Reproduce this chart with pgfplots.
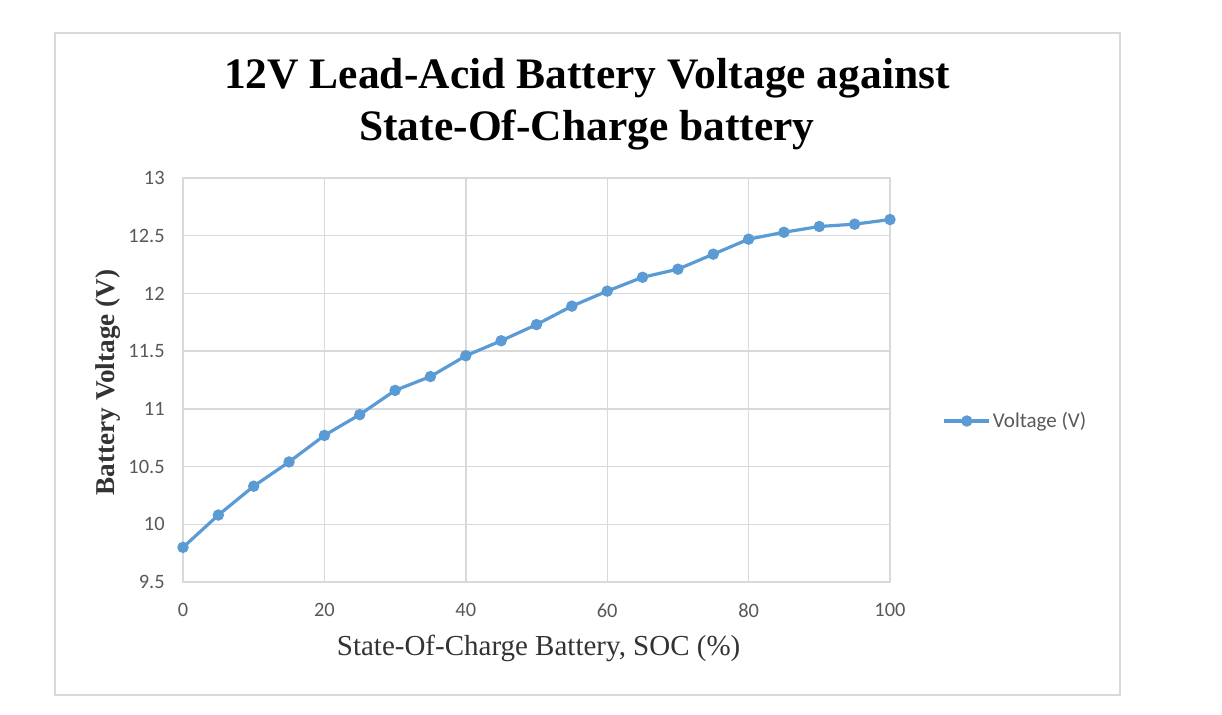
\documentclass[border=0pt]{standalone}
\usepackage{fontspec}
\setmainfont{Liberation Serif}
\newfontfamily\calibri{Carlito}
\usepackage{pgfplots}
\pgfplotsset{compat=1.18}
\definecolor{exblue}{HTML}{5B9BD5}
\definecolor{exgrid}{HTML}{D9D9D9}
\definecolor{extext}{HTML}{595959}
\begin{document}
\begin{tikzpicture}
\fill[white] (0pt,0pt) rectangle (611pt,357pt);
\draw[exgrid, line width=0.6pt] (27.5pt,9.5pt) rectangle (560pt,340.5pt);
\node[anchor=base, font=\bfseries\fontsize{21.75}{25}\selectfont, inner sep=0pt] at (293.5pt,312.5pt) {12V Lead-Acid Battery Voltage against};
\node[anchor=base, font=\bfseries\fontsize{21.75}{25}\selectfont, inner sep=0pt] at (293.5pt,287pt) {State-Of-Charge battery};
\begin{axis}[
  at={(91.5pt,66pt)}, anchor=south west,
  scale only axis, width=353.5pt, height=202pt,
  xmin=0, xmax=100, ymin=9.5, ymax=13,
  xtick={0,20,40,60,80,100},
  ytick={9.5,10,10.5,11,11.5,12,12.5,13},
  yticklabel style={/pgf/number format/fixed, /pgf/number format/precision=1},
  /pgf/number format/assume math mode=true,
  major tick length=0pt,
  grid=major,
  major grid style={exgrid, line width=0.7pt},
  axis line style={exgrid, line width=0.7pt},
  tick label style={font=\calibri\fontsize{10.2}{12}\selectfont, text=extext, inner sep=0pt},
  xticklabel shift=10.5pt,
  yticklabel shift=9pt,
  xlabel={State-Of-Charge Battery, SOC (\%)},
  xlabel style={font=\fontsize{14.5}{16}\selectfont, text=black!80, inner sep=0pt, at={(axis description cs:0.503,-0.1807)}, anchor=base},
  ylabel={Battery Voltage (V)},
  ylabel style={font=\bfseries\fontsize{13.6}{15}\selectfont, text=black!80, inner sep=0pt, at={(axis description cs:-0.0962,0.4938)}, anchor=base, rotate=0},
  legend style={at={(1.074,0.3985)}, anchor=west, draw=none, fill=none, inner sep=0pt,
    font=\calibri\fontsize{10.5}{12}\selectfont, text=extext,
    nodes={inner sep=1pt}},
  legend image code/.code={
    \draw[#1, mark=none] (0pt,0pt) -- (22.5pt,0pt);
    \draw[#1, only marks] plot coordinates {(11.25pt,0pt)};
  },
  clip=false,
]
\addplot[exblue, line width=1.6pt, mark=*, mark size=2.6pt, mark options={fill=exblue, draw=exblue, line width=0.5pt}] coordinates {
(0,9.80) (5,10.08) (10,10.33) (15,10.54) (20,10.77) (25,10.95) (30,11.16)
(35,11.28) (40,11.46) (45,11.59) (50,11.73) (55,11.89) (60,12.02) (65,12.14)
(70,12.21) (75,12.34) (80,12.47) (85,12.53) (90,12.58) (95,12.60) (100,12.64)
};
\addlegendentry{Voltage (V)}
\end{axis}
\end{tikzpicture}
\end{document}
